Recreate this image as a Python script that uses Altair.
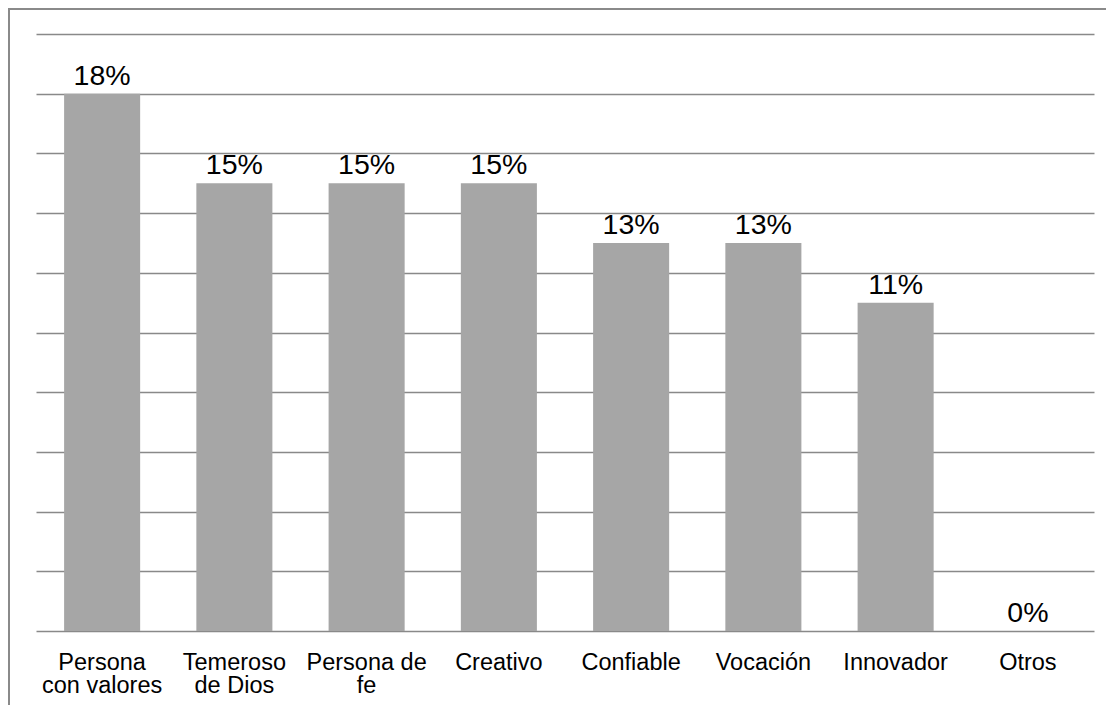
import altair as alt
import pandas as pd

categories = ["Persona con valores", "Temeroso de Dios", "Persona de fe", "Creativo",
              "Confiable", "Vocación", "Innovador", "Otros"]
values = [0.18, 0.15, 0.15, 0.15, 0.13, 0.13, 0.11, 0.0]
label_lines = {
    "Persona con valores": ["Persona", "con valores"],
    "Temeroso de Dios": ["Temeroso", "de Dios"],
    "Persona de fe": ["Persona de", "fe"],
}
y_ticks = [0.0, 0.02, 0.04, 0.06, 0.08, 0.10, 0.12, 0.14, 0.16, 0.18, 0.20]

df = pd.DataFrame({"cat": categories, "val": values})

FONT = "Liberation Sans"
W, H = 1058, 597
PAD_L, PAD_T = 28, 26

expr = "datum.label"
for k, v in reversed(list(label_lines.items())):
    arr = "[" + ",".join("'" + s + "'" for s in v) + "]"
    expr = f"datum.label == '{k}' ? {arr} : ({expr})"

x = alt.X("cat:N", sort=categories,
          scale=alt.Scale(paddingInner=0.425, paddingOuter=0.2125),
          axis=alt.Axis(title=None, labelAngle=0, ticks=False, domain=False,
                        labelFont=FONT, labelFontSize=23.5, labelColor="#000000",
                        labelPadding=19, labelLineHeight=23.5, labelExpr=expr,
                        labelBaseline="top"))
y = alt.Y("val:Q", scale=alt.Scale(domain=[0, 0.2], nice=False),
          axis=alt.Axis(title=None, values=y_ticks, labels=False, ticks=False,
                        domain=False, grid=True, gridColor="#898989", gridWidth=1.6))

base = alt.Chart(df)
bars = base.mark_bar(color="#a6a6a6").encode(x=x, y=y)
text = base.mark_text(font=FONT, fontSize=28.5, color="#000000", baseline="alphabetic",
                      dy=-9).encode(x=alt.X("cat:N", sort=categories),
                                    y="val:Q", text=alt.Text("val:Q", format=".0%"))

frame_left = alt.Chart(df).mark_rule(color="#8a8a8a", strokeWidth=2).encode(
    x=alt.value(1 - PAD_L), y=alt.value(-PAD_T), y2=alt.value(H + 80))
frame_top = alt.Chart(df).mark_rule(color="#8a8a8a", strokeWidth=2).encode(
    x=alt.value(-PAD_L), x2=alt.value(W + 14), y=alt.value(1 - PAD_T))

chart = alt.layer(bars, text, frame_left, frame_top).properties(
    width=W, height=H,
    padding={"left": PAD_L, "top": PAD_T, "right": 12, "bottom": 74},
    autosize=alt.AutoSizeParams(type="none"),
    background="#ffffff",
).configure_view(stroke=None)

chart.save("out.html", embed_options={"renderer": "svg", "actions": False})
